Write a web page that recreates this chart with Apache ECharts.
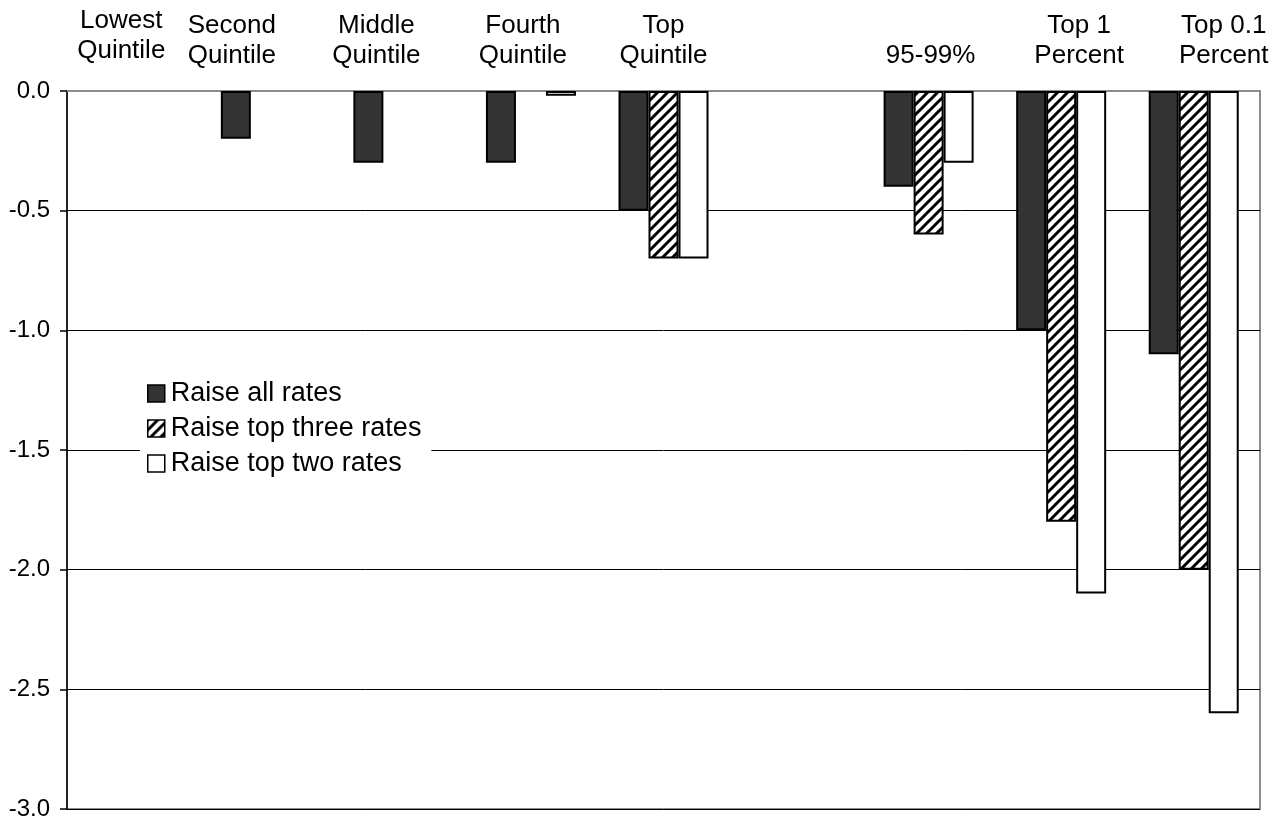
<!DOCTYPE html>
<html>
<head>
<meta charset="utf-8">
<script src="https://cdn.jsdelivr.net/npm/echarts@6/dist/echarts.min.js"></script>
<style>
  html, body { margin: 0; padding: 0; background: #ffffff; }
  #chart { width: 1281px; height: 821px; }
</style>
</head>
<body>
<div id="chart"></div>
<script>
// Income groups along the top; the blank slot separates quintiles from the top percentiles
const categories = ['Lowest\nQuintile', 'Second\nQuintile', 'Middle\nQuintile', 'Fourth\nQuintile',
  'Top\nQuintile', '', '95-99%', 'Top 1\nPercent', 'Top 0.1\nPercent'];

// Percent change in after-tax income for each option
const raiseAllRates   = [0, -0.2, -0.3, -0.3, -0.5, null, -0.4, -1.0, -1.1];
const raiseTopThree   = [0, 0, 0, 0, -0.7, null, -0.6, -1.8, -2.0];
const raiseTopTwo     = [0, 0, 0, -0.02, -0.7, null, -0.3, -2.1, -2.6];

const seriesNames = ['Raise all rates', 'Raise top three rates', 'Raise top two rates'];
const yTicks = { min: -3, max: 0, interval: 0.5 };

// Horizontal nudges (px) for the category captions
const labelShift = [-12, -34, -22, -8, 0, 0, 2, 18, 30];
const labelRaise = [5, 0, 0, 0, 0, 0, 0, 0, 0];

const FONT = 'Liberation Sans, Arial, sans-serif';

// Diagonal hatch fill
function hatchPattern() {
  const s = 10;
  const c = document.createElement('canvas');
  c.width = s; c.height = s;
  const g = c.getContext('2d');
  g.fillStyle = '#ffffff';
  g.fillRect(0, 0, s, s);
  g.strokeStyle = '#000000';
  g.lineWidth = 3;
  g.beginPath();
  g.moveTo(-1, s + 1); g.lineTo(s + 1, -1);
  g.moveTo(-1, 1); g.lineTo(1, -1);
  g.moveTo(s - 1, s + 1); g.lineTo(s + 1, s - 1);
  g.stroke();
  return { image: c, repeat: 'repeat' };
}

// Zero values get no outline so they leave no stub on the axis
function toItems(arr) {
  return arr.map(v => (v === 0 ? { value: v, itemStyle: { borderWidth: 0, opacity: 0 } } : v));
}

const rich = {};
categories.forEach((c, i) => {
  rich['c' + i] = {
    fontFamily: FONT,
    fontSize: 26,
    lineHeight: 30,
    color: '#000',
    align: 'center',
    padding: [0, labelShift[i] < 0 ? -2 * labelShift[i] : 0, labelRaise[i] * 2, labelShift[i] > 0 ? 2 * labelShift[i] : 0]
  };
});

const chart = echarts.init(document.getElementById('chart'), null, { renderer: 'canvas' });

const barBase = {
  type: 'bar',
  barWidth: 30,
  barGap: '0%',
  barCategoryGap: '0%',
  emphasis: { disabled: true }
};
const outline = { borderColor: '#000', borderWidth: 2 };

chart.setOption({
  animation: false,
  backgroundColor: '#ffffff',
  grid: {
    left: 67, right: 21, top: 91, bottom: 12,
    show: true, borderColor: '#8c8c8c', borderWidth: 2, backgroundColor: 'transparent'
  },
  legend: {
    orient: 'vertical',
    left: 140, top: 376,
    itemWidth: 17, itemHeight: 17, itemGap: 8,
    padding: [4, 10, 4, 7],
    backgroundColor: '#ffffff',
    itemStyle: { borderWidth: 1.5, borderColor: '#000' },
    textStyle: { fontFamily: FONT, fontSize: 27, color: '#000', padding: [0, 0, 0, 1] },
    data: seriesNames.map(n => ({ name: n, icon: 'rect' }))
  },
  xAxis: {
    type: 'category',
    data: categories,
    position: 'top',
    axisLine: { show: true, lineStyle: { color: '#8c8c8c', width: 2 } },
    axisTick: { show: false },
    axisLabel: {
      interval: 0,
      margin: 20,
      formatter: (v, i) => v.split('\n').map(t => '{c' + i + '|' + t + '}').join('\n'),
      rich: rich
    },
    splitLine: { show: false }
  },
  yAxis: {
    type: 'value',
    min: yTicks.min, max: yTicks.max, interval: yTicks.interval,
    axisLine: { show: true, lineStyle: { color: '#000', width: 1.5 } },
    axisTick: { show: true, length: 7, lineStyle: { color: '#000', width: 1.5 } },
    axisLabel: {
      fontFamily: FONT, fontSize: 24, color: '#000', margin: 17,
      formatter: v => v.toFixed(1)
    },
    splitLine: { show: true, lineStyle: { color: '#000', width: 1 } }
  },
  series: [
    Object.assign({}, barBase, { name: seriesNames[0], data: toItems(raiseAllRates), itemStyle: Object.assign({ color: '#333333' }, outline) }),
    Object.assign({}, barBase, { name: seriesNames[1], data: toItems(raiseTopThree), itemStyle: Object.assign({ color: hatchPattern() }, outline) }),
    Object.assign({}, barBase, { name: seriesNames[2], data: toItems(raiseTopTwo), itemStyle: Object.assign({ color: '#ffffff' }, outline) })
  ]
});
</script>
</body>
</html>
